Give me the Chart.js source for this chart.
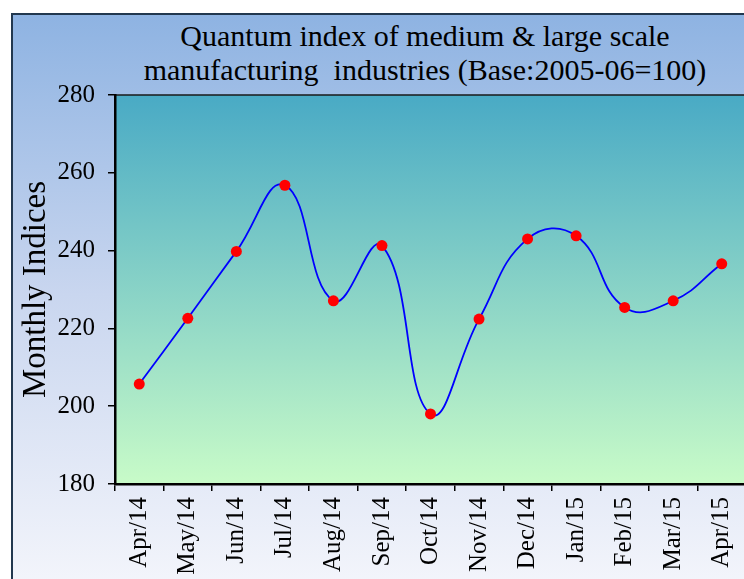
<!DOCTYPE html>
<html>
<head>
<meta charset="utf-8">
<script src="https://cdn.jsdelivr.net/npm/chart.js@4"></script>
<style>
  html, body { margin: 0; padding: 0; background: #fff; overflow: hidden; }
  #frame {
    position: absolute; left: 11px; top: 13px; width: 830px; height: 620px;
    border: 2px solid #22384f;
    background: linear-gradient(to bottom, #8eb3e2 0%, #c9d6ef 45%, #f6f7fc 95%);
  }
  #title {
    position: absolute; left: 125px; width: 600px; top: 19px;
    font-family: "Liberation Serif", serif; font-size: 30px; line-height: 34px;
    text-align: center; color: #000; white-space: pre;
  }
  #wrap { position: absolute; left: 0; top: 0; width: 800px; height: 579px; }
</style>
</head>
<body>
<div id="frame"></div>
<div id="title">Quantum index of medium &amp; large scale
manufacturing  industries (Base:2005-06=100)</div>
<div id="wrap"><canvas id="chart"></canvas></div>
<script>
// data --------------------------------------------------
const months = ["Apr/14", "May/14", "Jun/14", "Jul/14", "Aug/14", "Sep/14",
  "Oct/14", "Nov/14", "Dec/14", "Jan/15", "Feb/15", "Mar/15", "Apr/15"];
const indices = [205.7, 222.6, 239.8, 256.8, 227.1, 241.3,
  198.0, 222.4, 243.0, 243.8, 225.4, 227.1, 236.6];
const yMin = 180;
const yMax = 280;
const yStep = 20;

// plot area background + frame line
const plotBg = {
  id: "plotBg",
  beforeDraw(chart) {
    const { ctx, chartArea: a } = chart;
    const g = ctx.createLinearGradient(0, a.top, 0, a.bottom);
    g.addColorStop(0, "#49aac5");
    g.addColorStop(1, "#c8fbc8");
    ctx.save();
    ctx.fillStyle = g;
    ctx.fillRect(a.left, a.top, a.right - a.left, a.bottom - a.top);
    ctx.strokeStyle = "#1a1a1a";
    ctx.lineWidth = 1.5;
    ctx.strokeRect(a.left, a.top, a.right - a.left, a.bottom - a.top);
    ctx.restore();
  },
};

const serif = "'Liberation Serif', 'Times New Roman', serif";

new Chart(document.getElementById("chart"), {
  type: "line",
  data: {
    labels: months,
    datasets: [
      {
        data: indices,
        borderColor: "#0000ff",
        borderWidth: 1.8,
        tension: 0.45,
        pointRadius: 5.5,
        pointBackgroundColor: "#ff0000",
        pointBorderColor: "#ff0000",
        pointBorderWidth: 0,
        fill: false,
      },
    ],
  },
  options: {
    responsive: true,
    maintainAspectRatio: false,
    devicePixelRatio: 1,
    animation: false,
    layout: { padding: { top: 95, right: 54, left: 0, bottom: 0 } },
    plugins: { legend: { display: false }, tooltip: { enabled: false } },
    scales: {
      x: {
        offset: true,
        grid: { offset: true, drawOnChartArea: false, color: "#000", tickLength: 7, lineWidth: 1.5 },
        border: { color: "#000", width: 2.5 },
        ticks: {
          autoSkip: false, minRotation: 90, maxRotation: 90, padding: 6,
          color: "#000", font: { family: serif, size: 25 },
        },
        afterFit(s) { s.height = 95; },
      },
      y: {
        min: yMin,
        max: yMax,
        grid: { drawOnChartArea: false, color: "#000", tickLength: 7, lineWidth: 1.5 },
        border: { color: "#000", width: 2.5 },
        ticks: {
          stepSize: yStep, padding: 13,
          color: "#000", font: { family: serif, size: 25 },
        },
        title: {
          display: true, text: "Monthly Indices", color: "#000",
          font: { family: serif, size: 33 }, padding: { top: 17, bottom: 0 },
        },
        afterFit(s) { s.width = 115; },
      },
    },
  },
  plugins: [plotBg],
});
</script>
</body>
</html>
